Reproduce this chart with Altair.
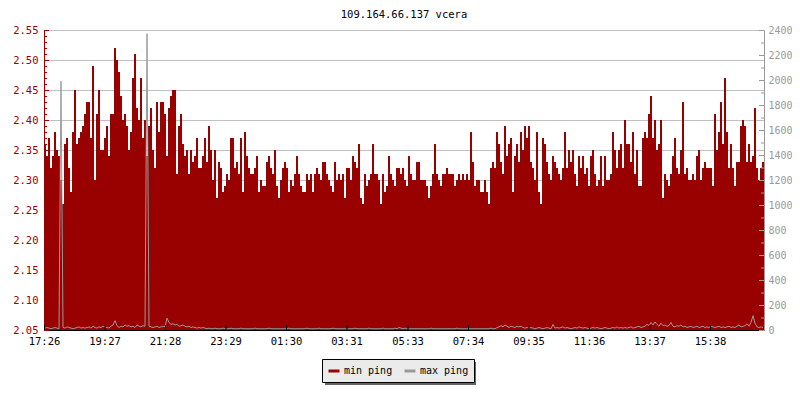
import json
import altair as alt
import pandas as pd

MONO = "DejaVu Sans Mono"

title_text = "109.164.66.137 vcera"
series_names = ["min ping", "max ping"]
series_colors = ["#990000", "#9a9a9a"]

time_labels = ["17:26", "19:27", "21:28", "23:29", "01:30", "03:31",
               "05:33", "07:34", "09:35", "11:36", "13:37", "15:38"]
time_ticks = [0, 121, 242, 363, 484, 605, 727, 848, 969, 1090, 1211, 1332]

left_major = [2.05, 2.10, 2.15, 2.20, 2.25, 2.30, 2.35, 2.40, 2.45, 2.50, 2.55]
right_major = [0, 200, 400, 600, 800, 1000, 1200, 1400, 1600, 1800, 2000, 2200, 2400]
right_minor = [100, 300, 500, 700, 900, 1100, 1300, 1500, 1700, 1900, 2100, 2300]

# minutes per bar (24 h span -> 360 bars)
bin_minutes = 4

min_seg1 = [2.36, 2.34, 2.37, 2.32, 2.34, 2.38, 2.35, 2.34, 2.30, 2.26,
            2.36, 2.37, 2.32, 2.28, 2.38, 2.45, 2.36, 2.37, 2.38, 2.39,
            2.41, 2.43, 2.43, 2.37, 2.49, 2.30, 2.41, 2.45, 2.35, 2.35,
            2.37, 2.39, 2.34, 2.41, 2.41, 2.52, 2.50, 2.48, 2.44, 2.40,
            2.41, 2.39, 2.35, 2.38, 2.47, 2.51, 2.42, 2.40, 2.47, 2.37,
            2.40, 2.34, 2.39, 2.42, 2.35, 2.32, 2.43, 2.38, 2.43, 2.43]
min_seg2 = [2.41, 2.34, 2.42, 2.44, 2.45, 2.45, 2.31, 2.39, 2.41, 2.36,
            2.34, 2.35, 2.31, 2.35, 2.33, 2.34, 2.37, 2.32, 2.32, 2.34,
            2.37, 2.33, 2.39, 2.35, 2.30, 2.35, 2.27, 2.33, 2.32, 2.28,
            2.29, 2.31, 2.30, 2.37, 2.37, 2.32, 2.33, 2.31, 2.37, 2.28,
            2.38, 2.34, 2.32, 2.31, 2.31, 2.32, 2.34, 2.28, 2.30, 2.29,
            2.29, 2.33, 2.34, 2.32, 2.31, 2.35, 2.29, 2.27, 2.30, 2.32]
min_seg3 = [2.33, 2.32, 2.28, 2.30, 2.29, 2.31, 2.34, 2.31, 2.29, 2.28,
            2.28, 2.31, 2.30, 2.31, 2.28, 2.31, 2.32, 2.31, 2.30, 2.33,
            2.33, 2.31, 2.30, 2.29, 2.28, 2.33, 2.30, 2.31, 2.30, 2.31,
            2.27, 2.32, 2.32, 2.30, 2.34, 2.33, 2.32, 2.36, 2.27, 2.26,
            2.31, 2.29, 2.30, 2.31, 2.36, 2.31, 2.31, 2.30, 2.26, 2.31,
            2.28, 2.29, 2.34, 2.31, 2.30, 2.29, 2.32, 2.32, 2.31, 2.32]
min_seg4 = [2.30, 2.29, 2.34, 2.31, 2.30, 2.30, 2.33, 2.33, 2.30, 2.30,
            2.30, 2.29, 2.27, 2.29, 2.31, 2.36, 2.31, 2.30, 2.29, 2.31,
            2.31, 2.32, 2.31, 2.31, 2.31, 2.29, 2.30, 2.31, 2.30, 2.31,
            2.30, 2.31, 2.30, 2.38, 2.33, 2.29, 2.30, 2.30, 2.28, 2.28,
            2.30, 2.28, 2.26, 2.32, 2.33, 2.32, 2.38, 2.36, 2.33, 2.31,
            2.39, 2.34, 2.36, 2.37, 2.28, 2.34, 2.36, 2.33, 2.38, 2.35]
min_seg5 = [2.39, 2.37, 2.39, 2.33, 2.32, 2.30, 2.38, 2.28, 2.26, 2.37,
            2.36, 2.33, 2.31, 2.30, 2.34, 2.33, 2.32, 2.31, 2.30, 2.32,
            2.38, 2.32, 2.35, 2.33, 2.35, 2.31, 2.29, 2.34, 2.32, 2.34,
            2.31, 2.32, 2.29, 2.34, 2.35, 2.31, 2.29, 2.30, 2.34, 2.29,
            2.34, 2.30, 2.30, 2.31, 2.38, 2.35, 2.32, 2.35, 2.36, 2.32,
            2.40, 2.36, 2.36, 2.33, 2.38, 2.31, 2.35, 2.29, 2.29, 2.37]
min_seg6 = [2.38, 2.37, 2.41, 2.44, 2.37, 2.40, 2.35, 2.36, 2.40, 2.27,
            2.31, 2.30, 2.29, 2.31, 2.34, 2.37, 2.32, 2.31, 2.35, 2.43,
            2.31, 2.32, 2.30, 2.30, 2.31, 2.30, 2.34, 2.35, 2.30, 2.32,
            2.33, 2.32, 2.32, 2.32, 2.29, 2.41, 2.35, 2.38, 2.43, 2.36,
            2.47, 2.38, 2.32, 2.36, 2.32, 2.29, 2.33, 2.33, 2.39, 2.40,
            2.39, 2.33, 2.36, 2.33, 2.34, 2.42, 2.32, 2.30, 2.32, 2.33]

max_seg1 = [15, 20, 15, 10, 15, 20, 15, 10, 1990, 20,
            15, 25, 20, 15, 10, 15, 20, 25, 15, 20,
            15, 20, 25, 15, 30, 20, 15, 25, 20, 30,
            25, 20, 15, 30, 40, 75, 35, 20, 30, 25,
            40, 30, 35, 25, 30, 20, 40, 30, 25, 35,
            30, 2370, 30, 25, 20, 25, 30, 20, 25, 30]
max_seg2 = [25, 95, 60, 45, 50, 40, 45, 30, 35, 40,
            30, 25, 30, 20, 25, 20, 15, 20, 15, 20,
            15, 10, 15, 10, 10, 15, 10, 10, 10, 15,
            10, 10, 10, 15, 10, 10, 10, 10, 15, 10,
            10, 10, 10, 10, 10, 15, 10, 10, 10, 10,
            10, 10, 15, 10, 10, 10, 10, 10, 10, 10]
max_seg3 = [10, 10, 15, 10, 10, 10, 10, 10, 10, 10,
            10, 15, 10, 10, 10, 10, 10, 15, 10, 10,
            10, 10, 10, 10, 15, 10, 10, 10, 10, 10,
            10, 10, 10, 10, 10, 15, 10, 10, 10, 10,
            10, 10, 15, 10, 10, 10, 10, 10, 10, 15,
            10, 10, 10, 10, 10, 15, 10, 20, 15, 10]
max_seg4 = [15, 10, 10, 10, 10, 10, 10, 10, 10, 10,
            10, 10, 10, 15, 10, 10, 10, 10, 10, 10,
            10, 10, 10, 10, 10, 10, 15, 10, 10, 10,
            10, 10, 10, 10, 10, 10, 10, 10, 10, 10,
            10, 10, 10, 15, 10, 10, 20, 25, 35, 25,
            40, 30, 20, 30, 25, 20, 30, 25, 30, 20]
max_seg5 = [15, 20, 15, 20, 15, 10, 15, 20, 15, 10,
            15, 20, 15, 10, 45, 15, 20, 15, 20, 25,
            15, 20, 15, 10, 15, 20, 15, 25, 20, 15,
            20, 15, 10, 15, 20, 15, 20, 15, 10, 15,
            20, 15, 10, 15, 20, 15, 25, 15, 20, 15,
            20, 15, 20, 25, 15, 20, 25, 30, 20, 25]
max_seg6 = [30, 45, 35, 60, 40, 65, 45, 30, 55, 35,
            40, 30, 35, 60, 30, 25, 35, 30, 40, 25,
            30, 20, 25, 30, 20, 25, 30, 20, 25, 30,
            20, 25, 20, 30, 25, 20, 25, 30, 20, 25,
            20, 25, 30, 20, 25, 20, 30, 40, 25, 30,
            35, 50, 30, 60, 115, 55, 25, 20, 25, 20]

min_ping = min_seg1 + min_seg2 + min_seg3 + min_seg4 + min_seg5 + min_seg6
max_ping = max_seg1 + max_seg2 + max_seg3 + max_seg4 + max_seg5 + max_seg6

n = len(min_ping)
df = pd.DataFrame({
    "start": [i * bin_minutes for i in range(n)],
    "end": [(i + 1) * bin_minutes for i in range(n)],
    "mid": [i * bin_minutes + bin_minutes / 2 for i in range(n)],
    "minp": min_ping,
    "maxp": max_ping,
    "series": ["max ping"] * n,
})

left_minor = [round(2.05 + 0.01 * k, 2) for k in range(51)]

W, H = 720, 300
left_scale = alt.Scale(domain=[2.05, 2.55], nice=False, zero=False)
right_scale = alt.Scale(domain=[0, 2400], nice=False, zero=False)
x_scale = alt.Scale(domain=[0, 1440], nice=False, zero=False)

label_expr = "{}[indexof({}, datum.value)]".format(json.dumps(time_labels), json.dumps(time_ticks))

x_axis = alt.Axis(values=time_ticks, labelExpr=label_expr, ticks=False, grid=False,
                  domainColor="black", labelColor="black", labelFont=MONO,
                  labelFontSize=10.5, labelPadding=6, title=None,
                  labelFlush=False, labelOverlap=False)
left_axis = alt.Axis(orient="left", values=left_major, format=".2f", grid=True,
                     gridColor="#c0c0c0", ticks=False, domainColor="#990000",
                     labelColor="#990000", labelFont=MONO, labelFontSize=10.5,
                     labelPadding=6, title=None)
right_axis = alt.Axis(orient="right", values=right_major, format="d", grid=False,
                      ticks=False, domainColor="#999999", labelColor="#999999",
                      labelFont=MONO, labelFontSize=10, labelPadding=4, title=None)

bars = alt.Chart(df).mark_rect(color="#990000", strokeWidth=0).encode(
    x=alt.X("start:Q", scale=x_scale, axis=x_axis),
    x2="end:Q",
    y=alt.Y("minp:Q", scale=left_scale, axis=left_axis),
    y2=alt.datum(2.05),
)

legend_expr = "datum.label == 'max ping' ? datum.label + '   ' : datum.label"
line = alt.Chart(df).mark_line(strokeWidth=1, interpolate="linear").encode(
    x=alt.X("mid:Q", scale=x_scale),
    y=alt.Y("maxp:Q", scale=right_scale, axis=right_axis),
    color=alt.Color("series:N",
                    scale=alt.Scale(domain=series_names, range=series_colors),
                    legend=alt.Legend(title=None, orient="none", legendX=278, legendY=329,
                                      direction="horizontal", fillColor="#ebebeb",
                                      strokeColor="black", padding=5, cornerRadius=0,
                                      symbolType="stroke", symbolStrokeWidth=3,
                                      symbolSize=121, labelFont=MONO, labelFontSize=10,
                                      labelColor="black", labelOffset=3, columnPadding=5,
                                      gridAlign="each", labelExpr=legend_expr)),
)

lm = pd.DataFrame({"v": left_minor})
lM = pd.DataFrame({"v": left_major})
rm = pd.DataFrame({"v": right_minor})
rM = pd.DataFrame({"v": right_major})
xt = pd.DataFrame({"t": time_ticks})

left_minor_ticks = alt.Chart(lm).mark_rule(color="#990000", yOffset=0.5).encode(
    y=alt.Y("v:Q", scale=left_scale, axis=None), x=alt.value(0), x2=alt.value(3))
left_major_ticks = alt.Chart(lM).mark_rule(color="#990000", yOffset=0.5).encode(
    y=alt.Y("v:Q", scale=left_scale, axis=None), x=alt.value(0), x2=alt.value(5))
right_minor_ticks = alt.Chart(rm).mark_rule(color="#999999", yOffset=0.5).encode(
    y=alt.Y("v:Q", scale=right_scale, axis=None), x=alt.value(W - 3), x2=alt.value(W))
right_major_ticks = alt.Chart(rM).mark_rule(color="#999999", yOffset=0.5).encode(
    y=alt.Y("v:Q", scale=right_scale, axis=None), x=alt.value(W - 5), x2=alt.value(W))
x_ticks = alt.Chart(xt).mark_rule(color="black", xOffset=0.5).encode(
    x=alt.X("t:Q", scale=x_scale), y=alt.value(H - 5), y2=alt.value(H))

shadow = alt.Chart(pd.DataFrame({"s": [0]})).mark_rect(color="#666666").encode(
    x=alt.value(281), x2=alt.value(432), y=alt.value(332), y2=alt.value(355))

chart = alt.layer(
    bars, shadow, line, left_minor_ticks, left_major_ticks,
    right_minor_ticks, right_major_ticks, x_ticks
).resolve_scale(y="independent").properties(
    width=W, height=H,
    title=alt.TitleParams(title_text, font=MONO, fontSize=10.5, fontWeight="normal",
                          color="black", offset=5, anchor="middle"),
    autosize=alt.AutoSizeParams(type="none"),
    padding={"left": 36, "top": 22, "right": 28, "bottom": 56},
).configure_view(strokeWidth=0)

chart.save("out.html", embed_options={"renderer": "svg", "actions": False})
